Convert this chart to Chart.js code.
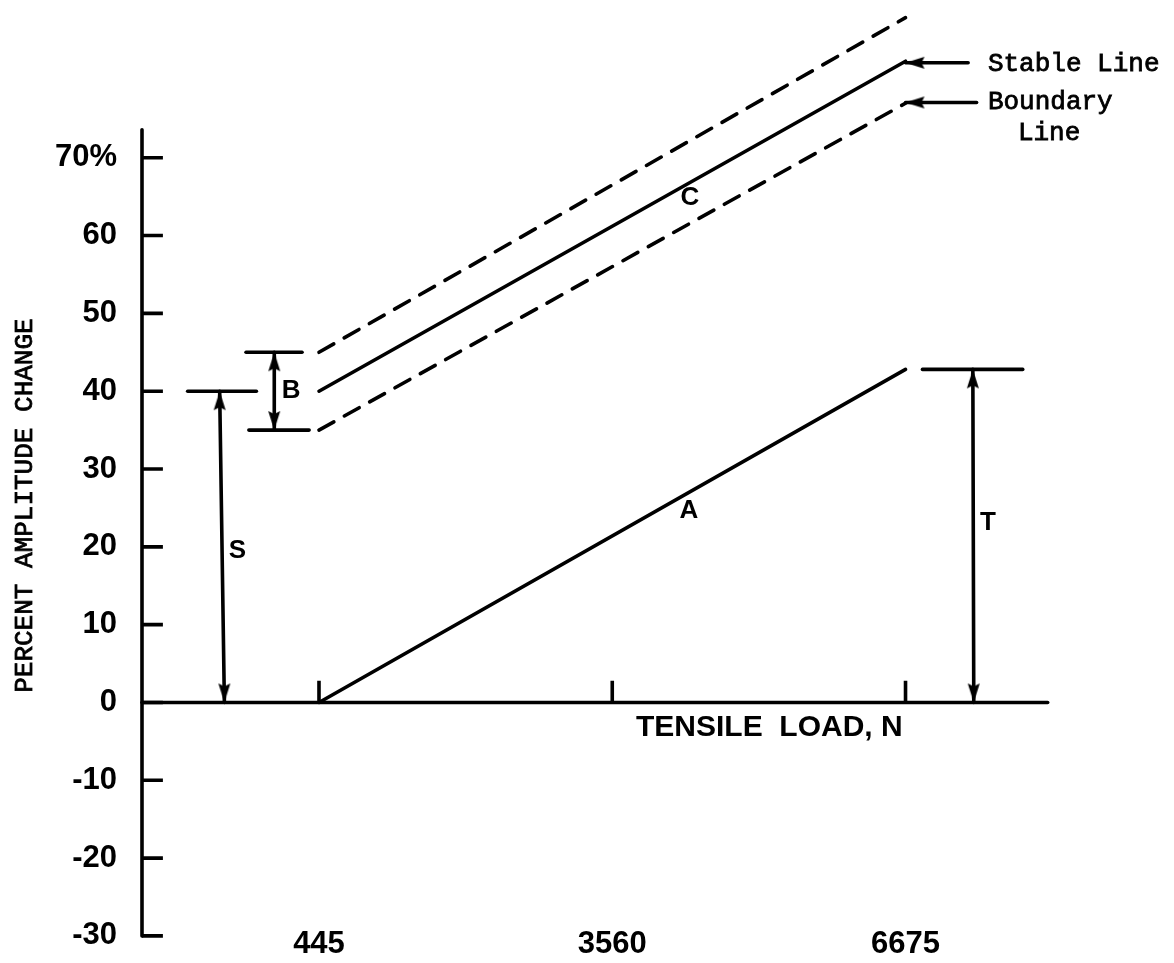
<!DOCTYPE html>
<html>
<head>
<meta charset="utf-8">
<script src="https://cdn.jsdelivr.net/npm/chart.js@4.4.0/dist/chart.umd.min.js"></script>
<style>
  body { margin: 0; background: #fff; }
</style>
</head>
<body>
<canvas id="myChart" width="1174" height="963"></canvas>
<script>
/*############  DATOS  ############*/
const loadTicks = [445, 3560, 6675];                 // N
const ampTicks = [-30, -20, -10, 0, 10, 20, 30, 40, 50, 60, 70];  // %
const lineLoad = [445, 6675];
const lineA = [0, 42.8];
const stableLine = [40, 82.4];
const boundaryUpper = [45, 88];
const boundaryLower = [35, 77];

// cotas S, B, T (carga, amplitud)
const sBarLoad = [-950, -220], sBarAmp = [40, 40];
const sArrowLoad = [-610, -560], sArrowAmp = [40, 0];
const bTopLoad = [-330, 265], bTopAmp = [45, 45];
const bBotLoad = [-300, 340], bBotAmp = [35, 35];
const bArrowLoad = [-30, -30], bArrowAmp = [45, 35];
const tBarLoad = [6855, 7920], tBarAmp = [42.8, 42.8];
const tArrowLoad = [7390, 7400], tArrowAmp = [42.8, 0];
const stableArrowLoad = [7340, 6675], stableArrowAmp = [82.2, 82.2];
const boundArrowLoad = [7430, 6675], boundArrowAmp = [77.1, 77.1];

// letras sobre el grafico
const letterText = ['A', 'B', 'C', 'S', 'T'];
const letterLoad = [4373, 149, 4384, -421, 7551];
const letterAmp = [24.6, 40, 64.9, 19.5, 23.1];

/*############  ESCALAS  ############*/
const xMin = -1435, xMax = 9463;
const yMin = -28.34, yMax = 89.5;
const yAxisBottom = -30;
const yAxisTop = 73.6;
const xAxisEnd = 8185;
const yTickLen = 222;   // en N
const xTickLen = 2.8;   // en %

/* punta de flecha */
const head = document.createElement('canvas');
head.width = 14; head.height = 40;
const hc = head.getContext('2d');
hc.fillStyle = '#000';
hc.beginPath();
hc.moveTo(7, 20); hc.lineTo(13, 39); hc.lineTo(7, 36); hc.lineTo(1, 39);
hc.closePath();
hc.fill();

let line = (xs, ys, extra) => Object.assign({
  data: xs.map((x, i) => ({x: x, y: ys[i]})),
  showLine: true,
  borderColor: '#000',
  borderWidth: 3.6,
  borderCapStyle: 'round',
  pointRadius: 0,
  clip: false
}, extra || {});

let arrow = (xs, ys, rot) => line(xs, ys, {
  pointStyle: head,
  pointRadius: c => rot[c.dataIndex] == null ? 0 : 6,
  pointBorderWidth: 0,
  rotation: c => rot[c.dataIndex] || 0
});

const dash = {borderDash: [17, 12]};

const yTickMarks = ampTicks.flatMap(v => [{x: xMin, y: v}, {x: xMin + yTickLen, y: v}, {x: xMin, y: null}]);
const xTickMarks = loadTicks.flatMap(v => [{x: v, y: 0}, {x: v, y: xTickLen}, {x: v, y: null}]);

const datasets = [
  line([xMin, xMin], [yAxisBottom, yAxisTop]),
  line([xMin, xAxisEnd], [0, 0]),
  Object.assign(line([], []), {data: yTickMarks, borderCapStyle: 'butt'}),
  Object.assign(line([], []), {data: xTickMarks, borderCapStyle: 'butt'}),
  line(lineLoad, lineA),
  line(lineLoad, stableLine),
  line(lineLoad, boundaryUpper, dash),
  line(lineLoad, boundaryLower, dash),
  line(sBarLoad, sBarAmp),
  arrow(sArrowLoad, sArrowAmp, [0, 180]),
  line(bTopLoad, bTopAmp),
  line(bBotLoad, bBotAmp),
  arrow(bArrowLoad, bArrowAmp, [0, 180]),
  line(tBarLoad, tBarAmp),
  arrow(tArrowLoad, tArrowAmp, [0, 180]),
  arrow(stableArrowLoad, stableArrowAmp, [null, 270]),
  arrow(boundArrowLoad, boundArrowAmp, [null, 270])
];

/*############  TEXTOS  ############*/
let mono = (ctx, t, px, py) => { ctx.fillText(t, px, py); ctx.strokeText(t, px, py); };

const textPlugin = {
  id: 'texts',
  afterDatasetsDraw(chart) {
    const {ctx, scales: {x, y}} = chart;
    ctx.save();
    ctx.fillStyle = '#000';
    ctx.strokeStyle = '#000';
    ctx.lineWidth = 0.8;
    ctx.textAlign = 'center';
    ctx.textBaseline = 'middle';

    ctx.font = 'bold 26px "Liberation Sans", Arial';
    letterText.forEach((t, i) => ctx.fillText(t, x.getPixelForValue(letterLoad[i]), y.getPixelForValue(letterAmp[i])));

    ctx.font = 'bold 30px "Liberation Sans", Arial';
    ctx.fillText('TENSILE  LOAD, N', x.getPixelForValue(5228), y.getPixelForValue(-3.2));

    ctx.font = '26px "Liberation Mono", "Courier New", monospace';
    mono(ctx, 'Line', x.getPixelForValue(8200), y.getPixelForValue(73.2));
    ctx.textAlign = 'left';
    mono(ctx, 'Stable Line', x.getPixelForValue(7550), y.getPixelForValue(82.0));
    mono(ctx, 'Boundary', x.getPixelForValue(7550), y.getPixelForValue(77.1));

    ctx.translate(x.getPixelForValue(-2681), y.getPixelForValue(25.3));
    ctx.rotate(-Math.PI / 2);
    ctx.textAlign = 'center';
    mono(ctx, 'PERCENT AMPLITUDE CHANGE', 0, 0);
    ctx.restore();
  }
};

const tickFont = {family: '"Liberation Sans", Arial', size: 31, weight: 'bold'};

const config = {
  type: 'scatter',
  data: {datasets: datasets},
  options: {
    responsive: false,
    animation: false,
    events: [],
    layout: {padding: 0},
    plugins: {legend: {display: false}, tooltip: {enabled: false}},
    scales: {
      x: {
        type: 'linear', min: xMin, max: xMax,
        grid: {display: false, drawTicks: false},
        border: {display: false},
        afterBuildTicks: s => { s.ticks = loadTicks.map(v => ({value: v})); },
        afterFit: s => { s.height = 40; s.paddingLeft = 0; s.paddingRight = 0; },
        ticks: {color: '#000', font: tickFont, padding: 3, maxRotation: 0, autoSkip: false,
                callback: v => String(v)}
      },
      y: {
        type: 'linear', min: yMin, max: yMax,
        grid: {display: false, drawTicks: false},
        border: {display: false},
        afterBuildTicks: s => { s.ticks = ampTicks.map(v => ({value: v})); },
        afterFit: s => { s.width = 142; s.paddingTop = 0; s.paddingBottom = 0; },
        ticks: {color: '#000', font: tickFont, padding: 25, autoSkip: false,
                callback: v => v === 70 ? '70%' : String(v)}
      }
    }
  },
  plugins: [textPlugin]
};

const chart = new Chart(document.getElementById('myChart'), config);
</script>
</body>
</html>
